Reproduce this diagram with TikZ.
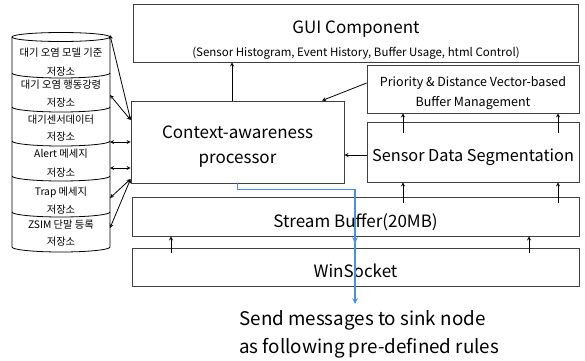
\documentclass[tikz,border=0pt]{standalone}
\usepackage{fontspec}
\setmainfont{Noto Sans CJK KR}
\usetikzlibrary{decorations.markings}
\definecolor{linkblue}{RGB}{70,145,230}
\tikzset{
  box/.style 2 args={draw=black!75, line width=0.8pt, inner sep=0pt, minimum width=#1pt, minimum height=#2pt},
  dbtext/.style={font=\fontsize{10.3}{10.3}\selectfont, inner sep=0pt},
  bigtext/.style={font=\fontsize{17}{17}\selectfont},
  midtext/.style={font=\fontsize{12.5}{12.5}\selectfont},
}

\begin{document}
\begin{tikzpicture}[x=1pt, y=1pt, >=stealth, line width=0.8pt]
\useasboundingbox (0,0) rectangle (585,360);
\node[box={445}{58}] (gui) at (355.5,327) {};
\node[bigtext] (guititle) at (356,331) {GUI Component};
\node[font=\fontsize{11.5}{11.5}\selectfont] (guisub) at (356,307) {(Sensor Histogram, Event History, Buffer Usage, html Control)};
\node[box={212}{48}] (prio) at (473,271) {};
\node[midtext] (priotop) at (473,277) {Priority \& Distance Vector-based};
\node[midtext] (priobot) at (473,257) {Buffer Management};
\node[box={213}{82}] (ctx) at (237.5,218) {};
\node[bigtext] (ctxtop) at (237.5,228) {Context-awareness};
\node[bigtext] (ctxbot) at (237.5,199) {processor};
\node[box={212}{60}] (seg) at (473,208) {};
\node[font=\fontsize{16.3}{16.3}\selectfont] (segtext) at (473,203) {Sensor Data Segmentation};
\node[box={447}{39}] (stream) at (355.5,143.5) {};
\node[bigtext] (streamtext) at (355.5,138) {Stream Buffer(20MB)};
\node[box={447}{38}] (win) at (355.5,93) {};
\node[bigtext] (wintext) at (355.5,89) {WinSocket};
\node[anchor=west, align=left, inner sep=0pt, font=\fontsize{18.8}{28}\selectfont] (rules) at (239,26) {Send messages to sink node\\as following pre-defined rules};

\draw[->] ([xshift=-5.5pt]ctx.north) -- ([xshift=-5.5pt]ctx.north |- gui.south);
\draw[->] ([yshift=6pt]prio.west) -- ([xshift=84.5pt]ctx.north);
\draw[->] ([xshift=-70pt,yshift=-11pt]seg.north) -- ([xshift=-70pt]prio.south);
\draw[->] ([xshift=85pt,yshift=-11pt]seg.north) -- ([xshift=85pt]prio.south);
\draw[->] ([yshift=-3pt]seg.west) -- ([yshift=-3pt]seg.west -| ctx.east);
\draw[->] ([xshift=-70pt,yshift=-6pt]seg.south |- stream.north) -- ([xshift=-70pt]seg.south);
\draw[->] ([xshift=85pt,yshift=-6pt]seg.south |- stream.north) -- ([xshift=85pt]seg.south);
\draw[->] ([xshift=-184.5pt,yshift=-5pt]win.north) -- ([xshift=-184.5pt]stream.south);
\draw[->] ([xshift=173.5pt,yshift=-5pt]win.north) -- ([xshift=173.5pt]stream.south);

\draw (61,323) ellipse (49 and 4.5);
\draw (12,323) -- (12,113) arc[start angle=180, end angle=360, x radius=49, y radius=5] -- (110,323);
\draw (12,287) arc[start angle=180, end angle=360, x radius=49, y radius=5];
\draw (12,253) arc[start angle=180, end angle=360, x radius=49, y radius=5];
\draw (12,219) arc[start angle=180, end angle=360, x radius=49, y radius=5];
\draw (12,184) arc[start angle=180, end angle=360, x radius=49, y radius=5];
\draw (12,148) arc[start angle=180, end angle=360, x radius=49, y radius=5];
\node[dbtext] (db1a) at (61,307) {대기 오염 모델 기준};
\node[dbtext] (db1b) at (61,288) {저장소};
\node[dbtext] (db2a) at (61,275) {대기 오염 행동강령};
\node[dbtext] (db2b) at (61,257) {저장소};
\node[dbtext] (db3a) at (61,240) {대기센서데이터};
\node[dbtext] (db3b) at (61,223) {저장소};
\node[dbtext] (db4a) at (61,206) {Alert 메세지};
\node[dbtext] (db4b) at (61,187) {저장소};
\node[dbtext] (db5a) at (61,168) {Trap 메세지};
\node[dbtext] (db5b) at (61,150) {저장소};
\node[dbtext] (db6a) at (61,135) {ZSIM 단말 등록};
\node[dbtext] (db6b) at (61,118) {저장소};

\coordinate (cyl1) at (110,325);
\coordinate (cyl2) at (110,265);
\coordinate (cyl3) at (110,218);
\coordinate (cyl4) at (110,192);
\coordinate (cyl5) at (110,162);
\coordinate (cyl6) at (110,132);
\draw[<->] (cyl1) -- ([yshift=22pt]ctx.west);
\draw[<->] (cyl2) -- ([yshift=22pt]ctx.west);
\draw[<->] (cyl3) -- (cyl3 -| ctx.west);
\draw[<->] (cyl4) -- (cyl4 -| ctx.west);
\draw[<->] (cyl5) -- ([yshift=-37pt]ctx.west);
\draw[<->] (cyl6) -- ([yshift=-37pt]ctx.west);

\coordinate (sink) at (355,56);
\draw[linkblue, line width=1.5pt, ->, postaction={decorate}, decoration={markings, mark=at position 0.744 with {\arrow{stealth}}}] (ctx.south) -- ++(0,-6) -| (sink);
\end{tikzpicture}
\end{document}
